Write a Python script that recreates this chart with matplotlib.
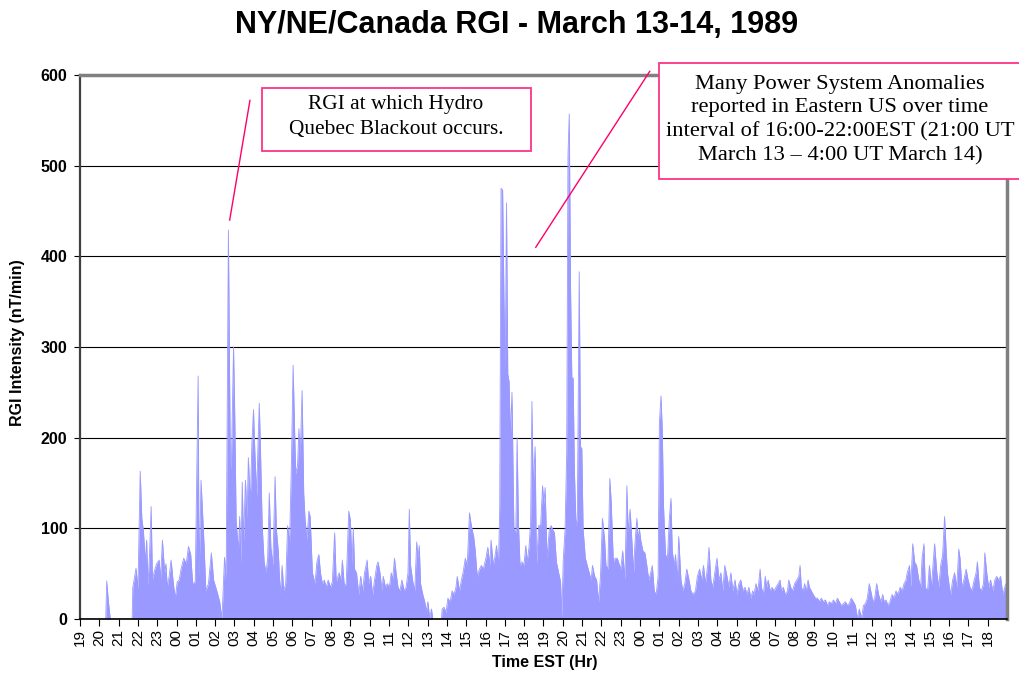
import numpy as np
import matplotlib
matplotlib.use("Agg")
import matplotlib.pyplot as plt
from matplotlib.patches import Rectangle

plt.rcParams['font.family'] = ['Liberation Sans', 'DejaVu Sans']

# RGI readings, minutes after 19:00 EST March 13 and value (nT/min)
# 19:00 - 02:00
m_eve = [0, 80, 83, 88, 91, 94, 162, 164, 168, 174, 180, 187, 192, 197, 203, 207, 211, 216, 221, 225,
         231, 238, 246, 250, 256, 263, 267, 271, 277, 283, 290, 296, 302, 308, 314, 322, 330, 337, 344, 350,
         358, 367, 370, 376, 381, 385, 391, 399, 408, 415]
v_eve = [0, 0, 42, 20, 10, 0, 0, 35, 43, 56, 33, 163, 111, 97, 63, 87, 37, 71, 124, 43,
         53, 61, 65, 43, 87, 51, 61, 35, 47, 65, 39, 23, 41, 43, 55, 67, 61, 80, 71, 39,
         41, 268, 45, 153, 115, 85, 31, 39, 73, 43]

# 02:00 - 09:00 (Hydro Quebec blackout)
m_night = [425, 434, 441, 449, 454, 461, 467, 470, 477, 481, 485, 492, 496, 500, 504, 508, 514, 519, 523, 529,
           534, 539, 543, 549, 553, 557, 561, 566, 572, 578, 583, 588, 593, 599, 606, 610, 616, 622, 628, 633,
           639, 645, 651, 657, 662, 666, 670, 676, 680, 684, 690, 695, 699, 705, 711, 715, 722, 730, 736, 742,
           747, 753, 759, 765, 771, 778, 784, 791, 796, 805, 811, 815, 821, 827]
v_night = [31, 19, 0, 68, 43, 429, 170, 165, 300, 220, 109, 75, 113, 61, 151, 85, 153, 111, 178, 127,
           194, 231, 186, 135, 194, 238, 182, 103, 63, 51, 67, 139, 79, 59, 157, 99, 75, 27, 59, 31,
           39, 103, 83, 176, 280, 218, 160, 170, 210, 178, 252, 139, 111, 87, 119, 113, 51, 39, 63, 71,
           51, 39, 43, 35, 43, 35, 41, 95, 41, 51, 43, 65, 37, 39]

# 09:00 - 16:00
m_day = [835, 840, 845, 849, 853, 859, 866, 872, 878, 884, 892, 897, 903, 909, 915, 922, 926, 932, 938, 942,
         949, 955, 961, 967, 971, 977, 982, 988, 994, 1000, 1007, 1013, 1019, 1023, 1027, 1034, 1040, 1046, 1050, 1054,
         1058, 1065, 1071, 1076, 1081, 1086, 1092, 1096, 1123, 1125, 1131, 1137, 1143, 1150, 1156, 1162, 1168, 1172, 1179, 1185,
         1191, 1197, 1203, 1210, 1214, 1218, 1223, 1228, 1234, 1241, 1247, 1253]
v_day = [119, 109, 59, 100, 55, 51, 27, 47, 31, 51, 65, 39, 47, 27, 43, 59, 63, 51, 31, 47,
         35, 39, 35, 51, 43, 67, 51, 35, 31, 43, 31, 35, 51, 121, 59, 41, 31, 85, 67, 81,
         39, 27, 19, 9, 19, 1, 11, 0, 0, 11, 13, 7, 23, 19, 31, 27, 35, 47, 31, 43,
         53, 67, 59, 117, 107, 99, 91, 75, 47, 55, 59, 55]

# 16:00 - 23:00 (power system anomalies)
m_storm = [1261, 1267, 1273, 1277, 1284, 1290, 1294, 1300, 1304, 1308, 1313, 1317, 1321, 1325, 1329, 1333, 1337, 1342, 1348, 1354,
           1358, 1362, 1367, 1373, 1379, 1385, 1389, 1395, 1400, 1404, 1408, 1414, 1418, 1425, 1431, 1437, 1441, 1445, 1451, 1458,
           1464, 1468, 1474, 1480, 1487, 1493, 1497, 1501, 1507, 1512, 1516, 1520, 1524, 1528, 1532, 1536, 1541, 1545, 1551, 1555,
           1559, 1563, 1570, 1576, 1582, 1588, 1592, 1599, 1605, 1611, 1617, 1623, 1630, 1634, 1640, 1646, 1650, 1657, 1663, 1669]
v_storm = [67, 79, 59, 87, 59, 71, 81, 59, 123, 475, 473, 356, 274, 459, 270, 262, 200, 250, 99, 95,
           200, 107, 59, 63, 59, 81, 63, 79, 107, 240, 145, 190, 59, 103, 103, 147, 127, 145, 67, 99,
           103, 99, 95, 63, 51, 41, 1, 63, 99, 182, 511, 557, 365, 266, 266, 163, 103, 111, 383, 190,
           188, 99, 67, 59, 51, 43, 59, 47, 43, 19, 47, 111, 87, 59, 55, 155, 131, 63, 67, 67]

# 23:00 - 06:00 March 14
m_late = [1680, 1686, 1693, 1699, 1703, 1709, 1715, 1720, 1724, 1730, 1734, 1738, 1742, 1749, 1755, 1761, 1767, 1773, 1778, 1784,
          1790, 1796, 1800, 1805, 1809, 1813, 1819, 1825, 1831, 1836, 1840, 1846, 1850, 1856, 1860, 1867, 1873, 1879, 1885, 1892,
          1898, 1904, 1912, 1918, 1925, 1931, 1937, 1943, 1950, 1954, 1960, 1966, 1972, 1979, 1985, 1991, 1997, 2003, 2010, 2016,
          2022, 2028, 2035, 2041, 2047, 2053, 2059, 2066, 2072, 2078, 2084, 2090]
v_late = [55, 75, 43, 147, 95, 121, 83, 51, 83, 111, 87, 99, 87, 75, 73, 59, 43, 51, 59, 31,
          27, 47, 216, 246, 208, 123, 71, 67, 111, 133, 75, 59, 71, 43, 91, 43, 31, 39, 55, 43,
          31, 27, 31, 47, 55, 43, 59, 39, 59, 79, 43, 35, 51, 67, 43, 51, 31, 59, 47, 35,
          51, 31, 43, 27, 39, 43, 31, 35, 27, 35, 23, 31]

# 06:00 - 12:40 March 14
m_morn = [2094, 2100, 2106, 2113, 2117, 2123, 2129, 2133, 2138, 2144, 2150, 2156, 2162, 2169, 2175, 2179, 2185, 2191, 2198, 2202,
          2208, 2214, 2220, 2227, 2233, 2237, 2241, 2247, 2251, 2256, 2262, 2266, 2272, 2278, 2285, 2291, 2297, 2303, 2309, 2316,
          2322, 2328, 2334, 2341, 2347, 2353, 2359, 2365, 2372, 2378, 2384, 2390, 2396, 2403, 2409, 2415, 2421, 2428, 2434, 2440,
          2446, 2452, 2459, 2463, 2469, 2475, 2481, 2488, 2494]
v_morn = [27, 39, 31, 55, 35, 27, 47, 35, 43, 31, 35, 31, 35, 39, 43, 31, 35, 27, 31, 43,
          35, 31, 39, 43, 47, 59, 35, 31, 39, 31, 43, 35, 31, 27, 23, 23, 19, 23, 19, 21,
          15, 19, 17, 21, 17, 23, 19, 15, 17, 19, 15, 17, 23, 19, 15, 1, 11, 1, 15, 17,
          23, 39, 27, 19, 23, 39, 27, 19, 27]

# 12:40 - 19:00 March 14
m_aft = [2498, 2504, 2510, 2516, 2523, 2529, 2535, 2541, 2548, 2554, 2560, 2566, 2570, 2577, 2581, 2587, 2593, 2599, 2606, 2612,
         2616, 2622, 2626, 2633, 2639, 2645, 2651, 2655, 2662, 2668, 2674, 2680, 2686, 2691, 2695, 2701, 2705, 2711, 2717, 2724,
         2730, 2734, 2740, 2746, 2753, 2759, 2765, 2771, 2778, 2784, 2788, 2794, 2800, 2807, 2811, 2817, 2823, 2829, 2836, 2842,
         2848, 2854, 2860, 2867, 2873, 2877, 2880]
v_aft = [19, 21, 15, 19, 27, 23, 31, 27, 35, 31, 39, 43, 51, 59, 35, 83, 63, 59, 43, 35,
         67, 83, 35, 31, 59, 35, 63, 83, 51, 35, 59, 71, 113, 75, 51, 35, 27, 43, 51, 35,
         77, 67, 35, 43, 55, 43, 35, 31, 43, 51, 63, 35, 31, 39, 73, 51, 35, 43, 31, 43,
         47, 43, 47, 27, 35, 39, 30]

hour_labels = ['%02d' % ((19 + i) % 24) for i in range(48)]

minutes = np.array(m_eve + m_night + m_day + m_storm + m_late + m_morn + m_aft)
rgi = np.array(v_eve + v_night + v_day + v_storm + v_late + v_morn + v_aft)
hours = minutes / 60.0

W, H = 1020, 675
fig = plt.figure(figsize=(W / 100, H / 100), dpi=100)
ax = fig.add_axes([80 / W, 1 - 619 / H, (1007 - 80) / W, (619 - 75) / H])

ax.fill_between(hours, rgi, 0, color='#9999ff', lw=0, zorder=2)
ax.plot(hours, rgi, color='#9999ff', lw=0.6, zorder=2)

ax.set_xlim(0, 48)
ax.set_ylim(0, 600)
ax.set_xticks(range(48))
ax.set_xticklabels(hour_labels, rotation=90, fontsize=11)
ax.set_yticks(range(0, 700, 100))
ax.set_yticklabels([str(y) for y in range(0, 700, 100)], fontsize=11.5, fontweight='bold')
ax.tick_params(axis='x', direction='out', length=5, pad=2, color='black')
ax.tick_params(axis='y', direction='out', length=4, pad=5, color='black')
ax.grid(axis='y', color='black', lw=0.8)
ax.set_axisbelow(True)

ax.spines['top'].set_color('#808080')
ax.spines['top'].set_linewidth(2.5)
ax.spines['right'].set_color('#808080')
ax.spines['right'].set_linewidth(2.5)
ax.spines['left'].set_color('#404040')
ax.spines['left'].set_linewidth(1.6)
ax.spines['bottom'].set_color('black')
ax.spines['bottom'].set_linewidth(1.2)

fig.text(517 / W, 1 - 25 / H, 'NY/NE/Canada RGI - March 13-14, 1989',
         ha='center', va='center', fontsize=22, fontweight='bold')
fig.text(18 / W, 1 - 343 / H, 'RGI Intensity (nT/min)', rotation=90,
         ha='center', va='center', fontsize=11.5, fontweight='bold')
fig.text(545 / W, 1 - 663 / H, 'Time EST (Hr)',
         ha='center', va='center', fontsize=11.5, fontweight='bold')

# annotation pointers
pink = '#ff0066'
ax.plot([7.75, 8.8], [440, 572], color=pink, lw=1, clip_on=False, zorder=5)
ax.plot([23.6, 29.5], [410, 604], color=pink, lw=1, clip_on=False, zorder=5)

# annotation boxes
box1 = Rectangle((262 / W, 1 - 151 / H), (531 - 262) / W, (151 - 88) / H,
                 transform=fig.transFigure, facecolor='white', edgecolor='#ff3388', lw=1.3, zorder=6)
fig.add_artist(box1)
fig.text(396 / W, 1 - 117 / H, 'RGI at which Hydro\nQuebec Blackout occurs.',
         ha='center', va='center', fontsize=15.4, family='Liberation Serif',
         linespacing=1.43, zorder=7)

box2 = Rectangle((659 / W, 1 - 179 / H), (1025 - 659) / W, (179 - 63) / H,
                 transform=fig.transFigure, facecolor='white', edgecolor='#ff3388', lw=1.3, zorder=6)
fig.add_artist(box2)
fig.text(840 / W, 1 - 120 / H,
         'Many Power System Anomalies\nreported in Eastern US over time\n'
         'interval of 16:00-22:00EST (21:00 UT\nMarch 13 \u2013 4:00 UT March 14)',
         ha='center', va='center', fontsize=16.2, family='Liberation Serif',
         linespacing=1.33, zorder=7)

fig.savefig('out.png', dpi=100)
